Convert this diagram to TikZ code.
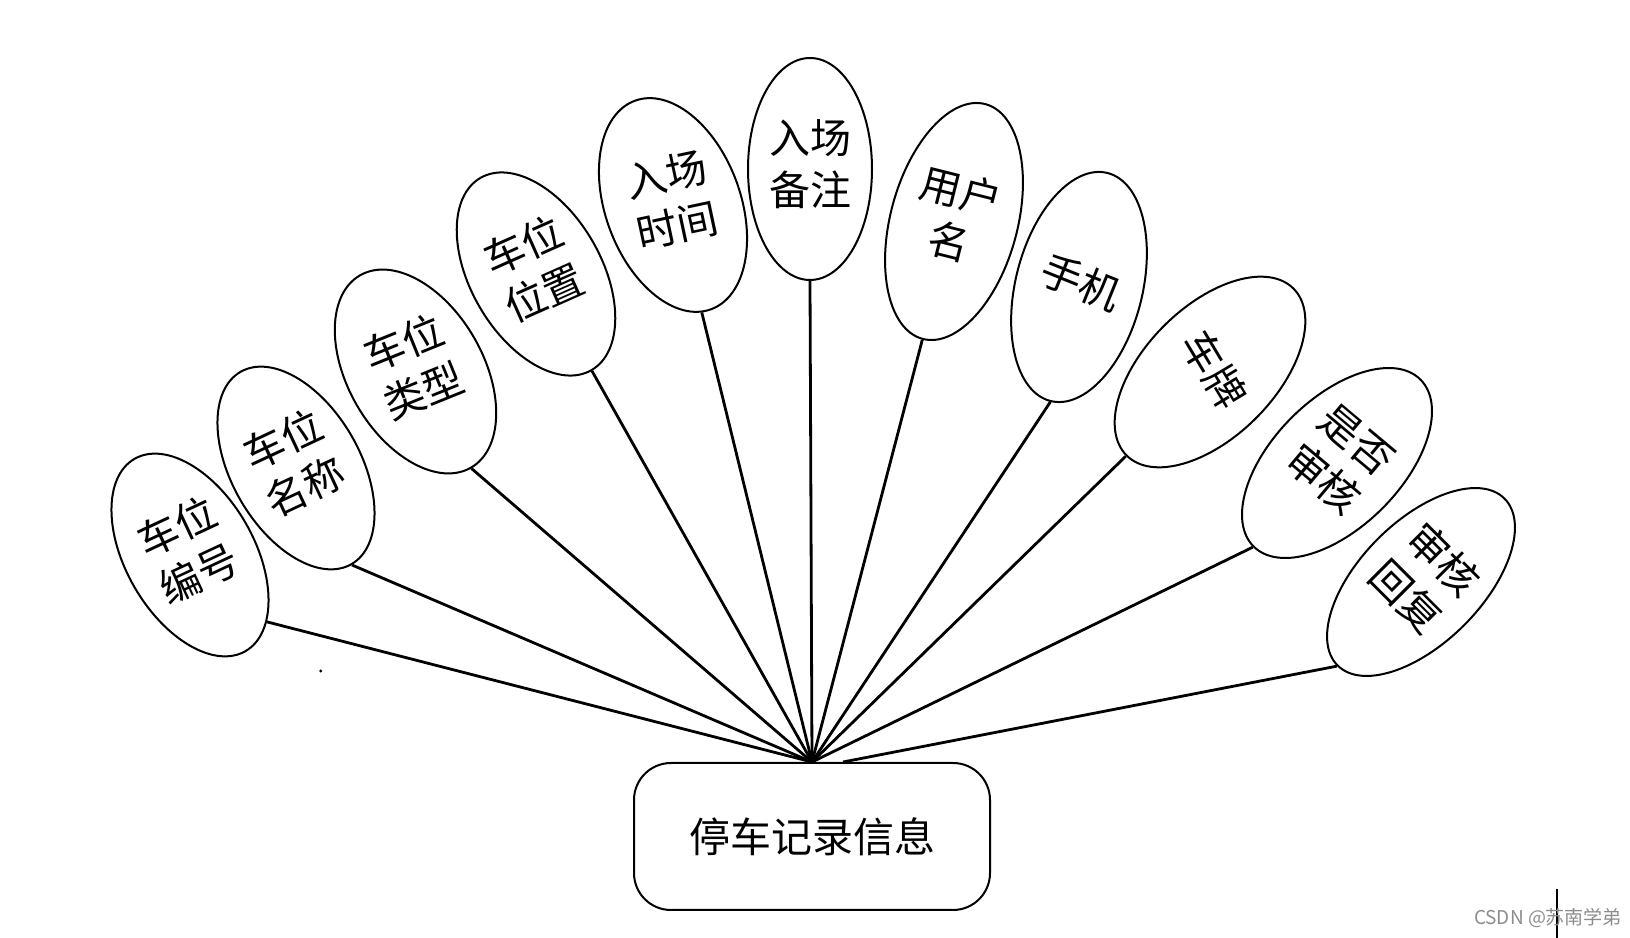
\documentclass[tikz,border=0pt]{standalone}
\usepackage{fontspec}
\usepackage{graphicx}
\newfontfamily\cjk{Noto Sans CJK SC}
\usetikzlibrary{shapes.geometric}
\newcommand\tx[2]{\rotatebox[origin=c]{#1}{\begin{tabular}{@{}c@{}}#2\end{tabular}}}
\tikzset{
  attr/.style={ellipse, draw, line width=1pt, minimum width=62pt, minimum height=111pt,
    inner sep=0pt, font=\cjk\fontsize{20.5pt}{26pt}\selectfont},
  entbox/.style={rectangle, draw, line width=1pt, rounded corners=18.5pt,
    minimum width=178pt, minimum height=73.5pt, inner sep=0pt,
    font=\cjk\fontsize{20.5pt}{26pt}\selectfont},
  link/.style={line width=1.4pt},
}
\begin{document}
\begin{tikzpicture}[x=0.5pt,y=0.5pt]
\useasboundingbox (0,0) rectangle (1630,938);
\node[entbox] (box) at (812,101.5) {停车记录信息};
\node[attr, rotate=30] (e1) at (190,383) {\tx{-5}{车位\\编号}};
\node[attr, rotate=30] (e2) at (296,470) {\tx{-5}{车位\\名称}};
\node[attr, rotate=30] (e3) at (415.5,566.5) {\tx{-8}{车位\\类型}};
\node[attr, rotate=30] (e4) at (536,664) {\tx{-6}{车位\\位置}};
\node[attr, rotate=20] (e5) at (673,733) {\tx{-8}{入场\\时间}};
\node[attr] (e6) at (810,769) {\tx{0}{入场\\备注}};
\node[attr, rotate=-15, minimum width=63.5pt, minimum height=121.5pt] (e7) at (954,716.5) {\tx{1}{用户\\名}};
\node[attr, rotate=-14, minimum width=63.5pt, minimum height=117.5pt] (e8) at (1079,651) {\tx{-8}{手机}};
\node[attr, rotate=-45, minimum width=61pt, minimum height=118pt] (e9) at (1210,566) {\tx{-14}{车牌}};
\node[attr, rotate=-45, minimum width=61pt, minimum height=118pt] (e10) at (1337,475) {\tx{5}{是否\\审核}};
\node[attr, rotate=-45, minimum width=61pt, minimum height=118pt] (e11) at (1421,356) {\tx{0}{审核\\回复}};
\draw[link] (e1.-71) -- (box.north);
\draw[link] (e5.-95) -- (box.north);
\foreach \i in {2,3,4,6,7,8,9,10}{\draw[link] (e\i.south) -- (box.north);}
\draw[link] (e11.south) -- ([xshift=15.5pt]box.north);
\fill (320.7,267) circle (0.8pt);
\coordinate (c1) at (1557,49);
\coordinate (c2) at (1557,0);
\draw[line width=1pt] (c1) -- (c2);
\node[font=\cjk\fontsize{9.5pt}{11pt}\selectfont, text=black!45, inner sep=0pt] (wm) at (1548,19.5) {CSDN @苏南学弟};
\end{tikzpicture}
\end{document}
